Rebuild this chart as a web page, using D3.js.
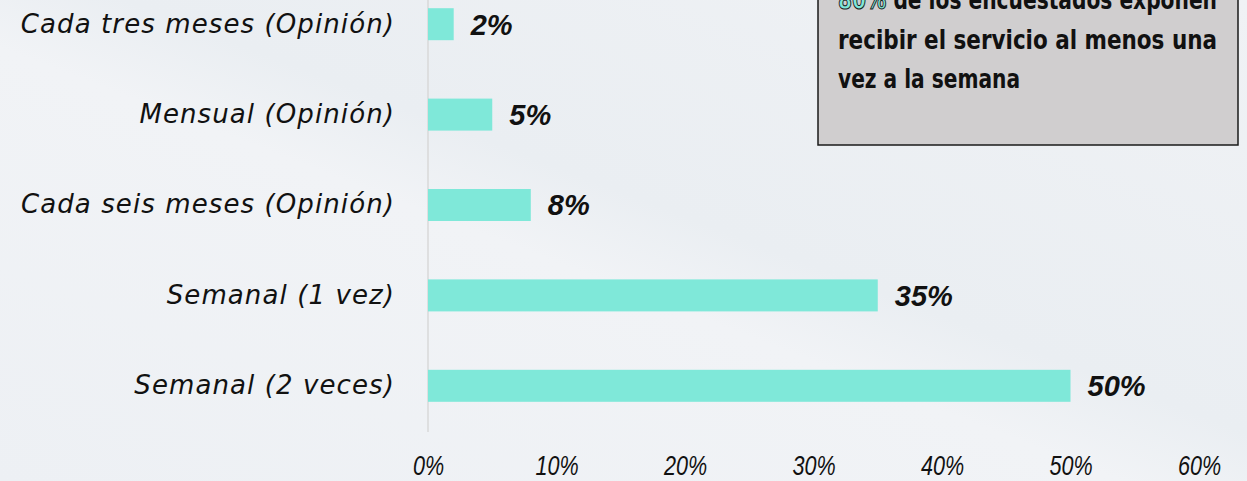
<!DOCTYPE html>
<html>
<head>
<meta charset="utf-8">
<script src="https://cdn.jsdelivr.net/npm/d3@7"></script>
<style>
  html, body { margin: 0; padding: 0; }
  body { width: 1247px; height: 481px; overflow: hidden; background: #eef1f5; }
</style>
</head>
<body>
<div id="chart"></div>
<script>
// data
var categories = ["Cada tres meses (Opinión)", "Mensual (Opinión)", "Cada seis meses (Opinión)", "Semanal (1 vez)", "Semanal (2 veces)"];
var values = [0.02, 0.05, 0.08, 0.35, 0.50];
var valueLabels = ["2%", "5%", "8%", "35%", "50%"];
var xTicks = [0, 0.1, 0.2, 0.3, 0.4, 0.5, 0.6];
var noteHighlight = "80%";
var noteLines = [" de los encuestados exponen", "recibir el servicio al menos una", "vez a la semana"];

var width = 1247, height = 481;

var svg = d3.select("#chart").append("svg")
  .attr("width", width)
  .attr("height", height);

// background with faint diagonal streaks
var defs = svg.append("defs");
var grad = defs.append("linearGradient").attr("id", "bg")
  .attr("x1", "0").attr("y1", "1").attr("x2", "1").attr("y2", "0");
grad.append("stop").attr("offset", "0").attr("stop-color", "#edf0f4");
grad.append("stop").attr("offset", "0.45").attr("stop-color", "#f1f3f6");
grad.append("stop").attr("offset", "0.55").attr("stop-color", "#eaeef2");
grad.append("stop").attr("offset", "1").attr("stop-color", "#f0f2f5");
svg.append("rect").attr("width", width).attr("height", height).attr("fill", "url(#bg)");

// set the ranges
var x = d3.scaleLinear()
  .domain([0, 0.6])
  .range([428, 1199]);
var y = d3.scaleBand()
  .domain(categories)
  .range([-21, 431])
  .paddingInner(0.646)
  .paddingOuter(0.323);

// vertical axis line
svg.append("line")
  .attr("x1", x(0)).attr("x2", x(0))
  .attr("y1", 0).attr("y2", 432)
  .attr("stroke", "#d9d9d9")
  .attr("stroke-width", 1.5);

// bars
svg.selectAll(".bar")
  .data(values)
  .enter().append("rect")
    .attr("class", "bar")
    .attr("x", x(0))
    .attr("y", function(d, i) { return y(categories[i]); })
    .attr("width", function(d) { return x(d) - x(0); })
    .attr("height", y.bandwidth())
    .attr("fill", "#7fe8d9");

// value labels
svg.selectAll(".val")
  .data(values)
  .enter().append("text")
    .attr("class", "val")
    .attr("x", function(d) { return x(d) + 17; })
    .attr("y", function(d, i) { return y(categories[i]) + y.bandwidth() / 2; })
    .attr("dy", "0.36em")
    .attr("font-family", "Liberation Sans, Arial, sans-serif")
    .attr("font-weight", "bold")
    .attr("font-style", "italic")
    .attr("font-size", "29px")
    .attr("fill", "#111")
    .text(function(d, i) { return valueLabels[i]; });

// category axis
var yAxis = svg.append("g")
  .attr("transform", "translate(395,0)")
  .call(d3.axisLeft(y).tickSize(0).tickPadding(0));
yAxis.select(".domain").remove();
yAxis.selectAll("text")
  .attr("font-family", "DejaVu Sans, sans-serif")
  .attr("font-style", "italic")
  .attr("font-size", "26px")
  .attr("letter-spacing", "1.1px")
  .attr("fill", "#111");

// percent axis (condensed look)
var xAxis = svg.append("g")
  .attr("transform", "translate(0,456)")
  .call(d3.axisBottom(x).tickValues(xTicks).tickFormat(d3.format(".0%")).tickSize(0).tickPadding(0));
xAxis.select(".domain").remove();
xAxis.selectAll("text")
  .attr("font-family", "Liberation Sans, sans-serif")
  .attr("font-style", "italic")
  .attr("font-size", "27px")
  .attr("fill", "#111")
  .each(function() {
    var w = this.getComputedTextLength();
    d3.select(this).attr("textLength", w * 0.8).attr("lengthAdjust", "spacingAndGlyphs");
  });

// callout box
svg.append("rect")
  .attr("x", 818).attr("y", -10)
  .attr("width", 420).attr("height", 155)
  .attr("fill", "#d0cecf")
  .attr("stroke", "#1a1a1a")
  .attr("stroke-width", 1.5);

var note = svg.append("g")
  .attr("font-family", "DejaVu Sans Condensed, DejaVu Sans, sans-serif")
  .attr("font-weight", "bold")
  .attr("font-size", "26px")
  .attr("fill", "#111");

var first = note.append("text").attr("x", 838).attr("y", 9)
  .attr("textLength", 379).attr("lengthAdjust", "spacingAndGlyphs");
first.append("tspan")
  .attr("fill", "#7fe8d9").attr("stroke", "#1a1a1a").attr("stroke-width", 1)
  .text(noteHighlight);
first.append("tspan").text(noteLines[0]);

note.append("text").attr("x", 838).attr("y", 49)
  .attr("textLength", 379).attr("lengthAdjust", "spacingAndGlyphs")
  .text(noteLines[1]);
note.append("text").attr("x", 838).attr("y", 88)
  .attr("textLength", 182).attr("lengthAdjust", "spacingAndGlyphs")
  .text(noteLines[2]);
</script>
</body>
</html>
